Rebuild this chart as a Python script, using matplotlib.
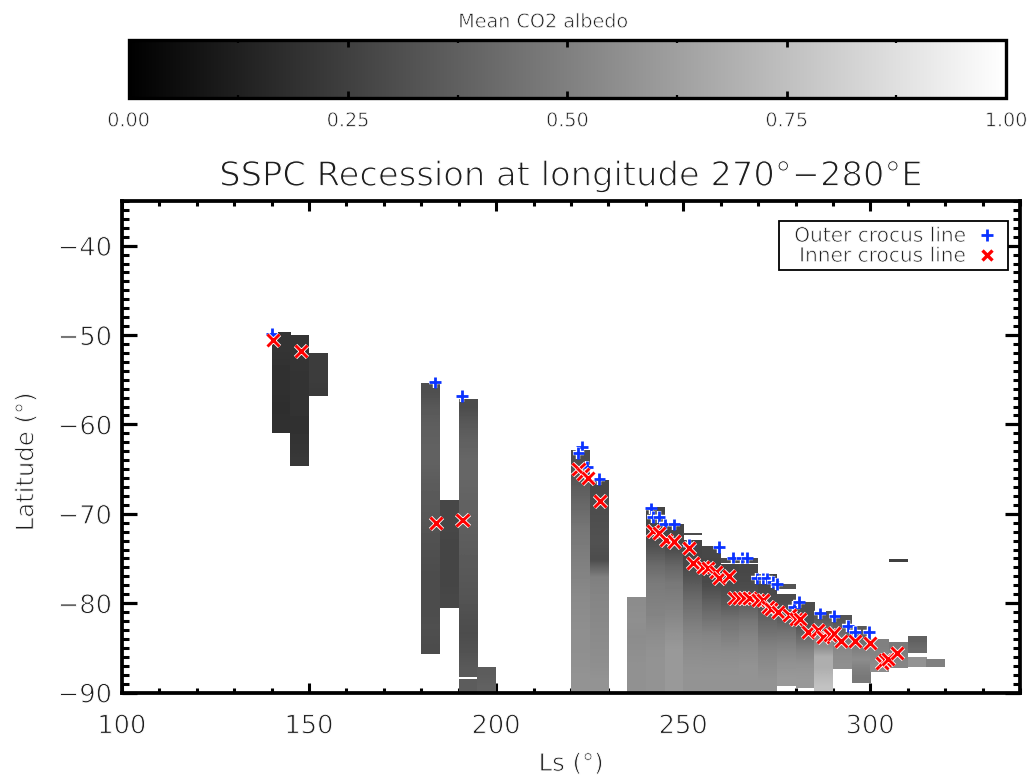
import numpy as np
import matplotlib
matplotlib.use("Agg")
import matplotlib.pyplot as plt
import matplotlib.patheffects as pe
from matplotlib.cm import ScalarMappable
from matplotlib.colors import Normalize
from matplotlib.lines import Line2D
from matplotlib.patches import Rectangle
from matplotlib.ticker import MultipleLocator, FixedLocator

title = "SSPC Recession at longitude 270°\u2212280°E"
cbar_label = "Mean CO2 albedo"
xlabel = "Ls (°)"
ylabel = "Latitude (°)"
legend_labels = ["Outer crocus line", "Inner crocus line"]

seg_ls = [140, 145, 150, 180, 185, 190, 190, 195, 220, 225, 235, 240, 245, 250, 250,
          255, 260, 260, 265, 265, 270, 275, 275, 280, 285, 290, 295, 300, 305, 305,
          310, 310, 315]
seg_top = [-49.7, -50.0, -52.1, -55.4, -68.6, -57.2, -88.6, -87.3, -63.0, -66.3, -79.4,
           -69.4, -71.3, -72.2, -73.0, -73.7, -75.0, -75.75, -75.0, -75.75, -76.9, -77.9,
           -79.1, -79.9, -81.0, -81.45, -82.6, -84.1, -75.1, -84.5, -83.8, -86.0, -86.3]
seg_bottom = [-61.0, -64.6, -56.8, -85.7, -80.6, -88.3, -90.0, -90.0, -90.0, -90.0, -90.0,
              -90.0, -90.0, -72.4, -90.0, -90.0, -75.5, -90.0, -75.5, -90.0, -90.0, -78.4,
              -89.3, -89.5, -90.0, -87.4, -88.9, -87.7, -75.35, -87.3, -85.6, -87.1, -87.15]
seg_albedo = [
    [.21, .20, .19, .19, .18, .19],
    [.21, .21, .20, .20, .20, .19, .20, .22],
    [.24, .24, .23],
    [.31, .35, .37, .38, .38, .36, .35, .34, .32, .31, .30, .30, .30, .31, .30],
    [.28, .28, .27, .27, .27, .28],
    [.30, .35, .38, .40, .40, .39, .38, .37, .36, .35, .34, .33, .31, .30, .32, .35],
    [.36],
    [.36, .38],
    [.30, .33, .38, .42, .46, .48, .50, .52, .54, .55, .56, .56, .57, .58],
    [.28, .30, .31, .32, .30, .50, .52, .53, .54, .55, .56, .58],
    [.55, .56, .55, .56, .57, .57],
    [.27, .27, .33, .42, .48, .50, .52, .55, .57, .58, .58],
    [.27, .30, .40, .47, .50, .53, .57, .60, .60, .60],
    [.30],
    [.27, .28, .35, .42, .47, .52, .55, .57, .58],
    [.28, .27, .30, .38, .45, .52, .55, .57, .58],
    [.30],
    [.27, .30, .35, .45, .50, .55, .57, .58],
    [.30],
    [.28, .30, .37, .46, .52, .55, .58, .58],
    [.27, .30, .38, .45, .52, .55, .58],
    [.33],
    [.30, .35, .45, .52, .57, .60],
    [.30, .32, .42, .52, .58, .60],
    [.33, .40, .52, .55, .68, .68, .72, .76],
    [.33, .38, .45, .52, .55, .56],
    [.35, .42, .50, .55, .50, .47],
    [.50, .52, .55],
    [.25],
    [.48, .52],
    [.38, .42],
    [.58],
    [.50],
]

outer_ls = [140.1, 183.7, 190.8, 222.9, 222.0, 224.2, 227.6, 241.3, 241.8, 243.6, 245.2,
            247.6, 251.6, 259.5, 263.4, 265.6, 267.0, 269.7, 271.3, 272.4, 273.9, 275.0,
            279.7, 280.9, 286.6, 290.4, 294.0, 296.0, 299.6]
outer_lat = [-49.9, -55.3, -56.8, -62.5, -63.2, -64.8, -66.15, -69.4, -70.35, -70.35, -71.2,
             -71.2, -73.5, -73.7, -74.9, -74.9, -74.9, -77.24, -77.24, -77.24, -77.6, -77.9,
             -80.4, -79.9, -81.15, -81.45, -82.6, -83.2, -83.2]
inner_ls = [140.3, 147.9, 183.9, 191.0, 222.0, 223.3, 224.5, 227.8, 242.0, 243.6, 245.4,
            247.6, 251.6, 252.7, 255.2, 256.7, 258.8, 259.6, 262.3, 263.7, 265.0, 266.3,
            267.7, 269.9, 271.3, 272.6, 273.5, 275.3, 278.4, 280.2, 281.1, 283.3, 286.0,
            287.3, 289.1, 290.4, 292.2, 296.0, 300.0, 303.1, 303.8, 304.7, 307.1]
inner_lat = [-50.6, -51.8, -71.0, -70.65, -65.0, -65.5, -66.0, -68.6, -71.9, -72.2, -72.9,
             -73.1, -73.8, -75.5, -76.0, -76.1, -76.5, -77.2, -77.0, -79.4, -79.4, -79.4,
             -79.4, -79.7, -79.7, -80.4, -80.7, -81.0, -81.3, -81.8, -81.8, -83.2, -83.0,
             -83.8, -83.6, -83.4, -84.2, -84.2, -84.5, -86.7, -86.4, -86.2, -85.6]
y_minor_ticks = list(range(-90, -34))

W, H = 1033, 782
TXT = "#1e1e1e"
plt.rcParams["font.family"] = "DejaVu Sans"
fig = plt.figure(figsize=(W / 100, H / 100), dpi=100)


def box(l, t, r, b):
    return [l / W, 1 - b / H, (r - l) / W, (b - t) / H]


def thin(text_obj):
    # white edge over the filled glyph gives the thin vector-font look
    size = text_obj.get_fontsize()
    text_obj.set_path_effects([pe.Stroke(linewidth=size * 0.036, foreground="white")])


ax = fig.add_axes(box(122, 201, 1020, 692.5))
cax = fig.add_axes(box(128.5, 40, 1006, 97.5))
norm = Normalize(0, 1)
cmap = "gray"

for ls, top, bot, vals in zip(seg_ls, seg_top, seg_bottom, seg_albedo):
    ax.imshow(np.array(vals).reshape(-1, 1), extent=(ls, ls + 5, bot, top), origin="upper",
              cmap=cmap, norm=norm, aspect="auto", interpolation="bilinear", zorder=2)

ax.plot(outer_ls, outer_lat, ls="none", marker="+", ms=8.5, mew=2.0, color="#0a32ff",
        path_effects=[pe.withStroke(linewidth=3.2, foreground="white")], zorder=5, clip_on=False)
ax.plot(inner_ls, inner_lat, ls="none", marker="x", ms=8.7, mew=2.1, color="#ff0000",
        path_effects=[pe.withStroke(linewidth=3.3, foreground="white")], zorder=6, clip_on=False)

ax.set_xlim(100, 340)
ax.set_ylim(-90, -35)
ax.xaxis.set_major_locator(MultipleLocator(50))
ax.xaxis.set_minor_locator(MultipleLocator(10))
ax.yaxis.set_major_locator(FixedLocator([-90, -80, -70, -60, -50, -40]))
ax.set_yticks(y_minor_ticks, minor=True)
ax.tick_params(which="major", axis="x", direction="in", top=True, length=7, width=2.2,
               labelsize=18.5, labelcolor=TXT, pad=15)
ax.tick_params(which="minor", axis="x", direction="in", top=True, bottom=True, length=3.5, width=2.2)
ax.tick_params(which="major", axis="y", direction="in", right=True, length=11, width=2.3,
               labelsize=18.5, labelcolor=TXT, pad=7)
ax.tick_params(which="minor", axis="y", direction="in", left=True, right=True, length=5, width=2.2)
for s in ax.spines.values():
    s.set_linewidth(2.7)
thin(ax.set_title(title, fontsize=24.3, color=TXT, pad=11))
thin(ax.set_xlabel(xlabel, fontsize=17.5, color=TXT, labelpad=9))
thin(ax.set_ylabel(ylabel, fontsize=17.5, color=TXT, labelpad=14, y=0.469))
for lab in ax.get_xticklabels() + ax.get_yticklabels():
    thin(lab)

ax.add_patch(Rectangle(((779 - 122) / 898, (692.5 - 270) / 491.5), (1007.7 - 779) / 898,
                       (270 - 220.7) / 491.5, transform=ax.transAxes, facecolor="white",
                       edgecolor="black", linewidth=1.3, zorder=9))
handles = [Line2D([], [], ls="none", marker="+", ms=8, mew=2, color="#0a32ff"),
           Line2D([], [], ls="none", marker="x", ms=7, mew=2.4, color="#ff0000")]
leg = ax.legend(handles, legend_labels, loc="upper right", markerfirst=False, fontsize=14.5,
                frameon=False, handlelength=0.9, handletextpad=0.55, labelspacing=0.05,
                borderpad=0.3, borderaxespad=0,
                bbox_to_anchor=((1001.7 - 122) / 898, (692.5 - 220.7) / 491.5),
                labelcolor=TXT)
leg.set_zorder(10)
for lab in leg.get_texts():
    thin(lab)

cb = fig.colorbar(ScalarMappable(norm=norm, cmap=cmap), cax=cax, orientation="horizontal")
cb.set_ticks([0, .25, .5, .75, 1], labels=["0.00", "0.25", "0.50", "0.75", "1.00"])
cb.ax.xaxis.set_minor_locator(MultipleLocator(.125))
cax.tick_params(which="major", axis="x", direction="in", top=True, length=5, width=2,
                labelsize=13.8, labelcolor=TXT, pad=10, color="black")
cax.tick_params(which="minor", axis="x", direction="in", top=True, length=2.5, width=1.6)
cb.outline.set_linewidth(2.4)
thin(cax.set_title(cbar_label, fontsize=13.8, color=TXT, pad=9, x=(543 - 128.5) / 877.5))
for lab in cax.get_xticklabels():
    thin(lab)

fig.savefig("out.png", dpi=100)
